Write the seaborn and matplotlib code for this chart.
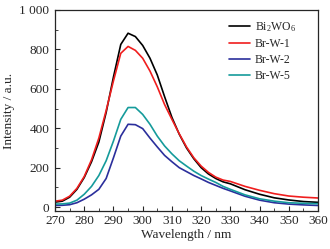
import numpy as np
import pandas as pd
import matplotlib
matplotlib.use("Agg")
import matplotlib.pyplot as plt
import seaborn as sns
from matplotlib.ticker import MultipleLocator, FuncFormatter

# 数据
wavelength = [270, 272.5, 275, 277.5, 280, 282.5, 285, 287.5, 290, 292.5, 295, 297.5,
              300, 302.5, 305, 307.5, 310, 312.5, 315, 317.5, 320, 322.5, 325, 327.5,
              330, 335, 340, 345, 350, 355, 360]
bi2wo6 = [25, 30, 50, 90, 150, 230, 330, 480, 660, 825, 882, 865,
          820, 755, 670, 560, 455, 370, 300, 245, 200, 168, 145, 128,
          118, 88, 65, 47, 36, 28, 24]
br_w_1 = [30, 35, 55, 95, 155, 240, 350, 490, 640, 780, 815, 795,
          755, 690, 610, 520, 445, 372, 305, 250, 208, 176, 152, 137,
          130, 105, 85, 68, 56, 50, 46]
br_w_2 = [8, 9, 12, 22, 40, 62, 90, 145, 250, 360, 420, 418,
          398, 350, 305, 262, 230, 200, 180, 160, 143, 125, 110, 95,
          82, 55, 35, 22, 15, 11, 8]
br_w_5 = [15, 16, 20, 35, 65, 105, 160, 235, 335, 445, 505, 505,
          470, 420, 360, 310, 270, 235, 208, 182, 160, 142, 125, 105,
          90, 62, 42, 30, 22, 19, 17]

labels = ["Bi$_2$WO$_6$", "Br-W-1", "Br-W-2", "Br-W-5"]
colors = ["#000000", "#f01e1e", "#2b2f9c", "#159b9b"]

rows = []
for name, vals in zip(labels, [bi2wo6, br_w_1, br_w_2, br_w_5]):
    for w, v in zip(wavelength, vals):
        rows.append({"wl": w, "I": v, "sample": name})
df = pd.DataFrame(rows)

sns.set_style("ticks")
plt.rcParams['font.family'] = ['Liberation Serif', 'DejaVu Serif']
plt.rcParams['mathtext.fontset'] = 'custom'
plt.rcParams['mathtext.rm'] = 'Liberation Serif'
plt.rcParams['mathtext.it'] = 'Liberation Serif'

fs = 9.5
fig = plt.figure(figsize=(3.3, 2.49), dpi=100)
ax = fig.add_axes([0.1667, 0.1526, 0.797, 0.8074])
sns.lineplot(data=df, x="wl", y="I", hue="sample", hue_order=labels,
             palette=colors, linewidth=1.2, ax=ax)

ax.set_xlim(270, 360)
ax.set_ylim(-20, 1000)
ax.xaxis.set_major_locator(MultipleLocator(10))
ax.xaxis.set_minor_locator(MultipleLocator(5))
ax.yaxis.set_major_locator(MultipleLocator(200))
ax.yaxis.set_minor_locator(MultipleLocator(100))
ax.yaxis.set_major_formatter(FuncFormatter(lambda v, p: "1 000" if v == 1000 else f"{v:.0f}"))
ax.tick_params(which="major", direction="in", length=3.5, width=0.8, labelsize=fs)
ax.tick_params(axis="x", which="major", pad=3)
ax.tick_params(axis="y", which="major", pad=4)
ax.tick_params(which="minor", direction="in", length=2, width=0.6)
for s in ax.spines.values():
    s.set_linewidth(0.9)
ax.set_xlabel("Wavelength / nm", fontsize=fs, labelpad=1)
ax.set_ylabel("Intensity / a.u.", fontsize=fs, labelpad=3)

ax.legend(loc="upper right", frameon=False, fontsize=8.5, handlelength=1.75,
          handletextpad=0.45, labelspacing=0.35, borderaxespad=0.0,
          bbox_to_anchor=(0.935, 0.975))

fig.savefig("out.png", dpi=100)
